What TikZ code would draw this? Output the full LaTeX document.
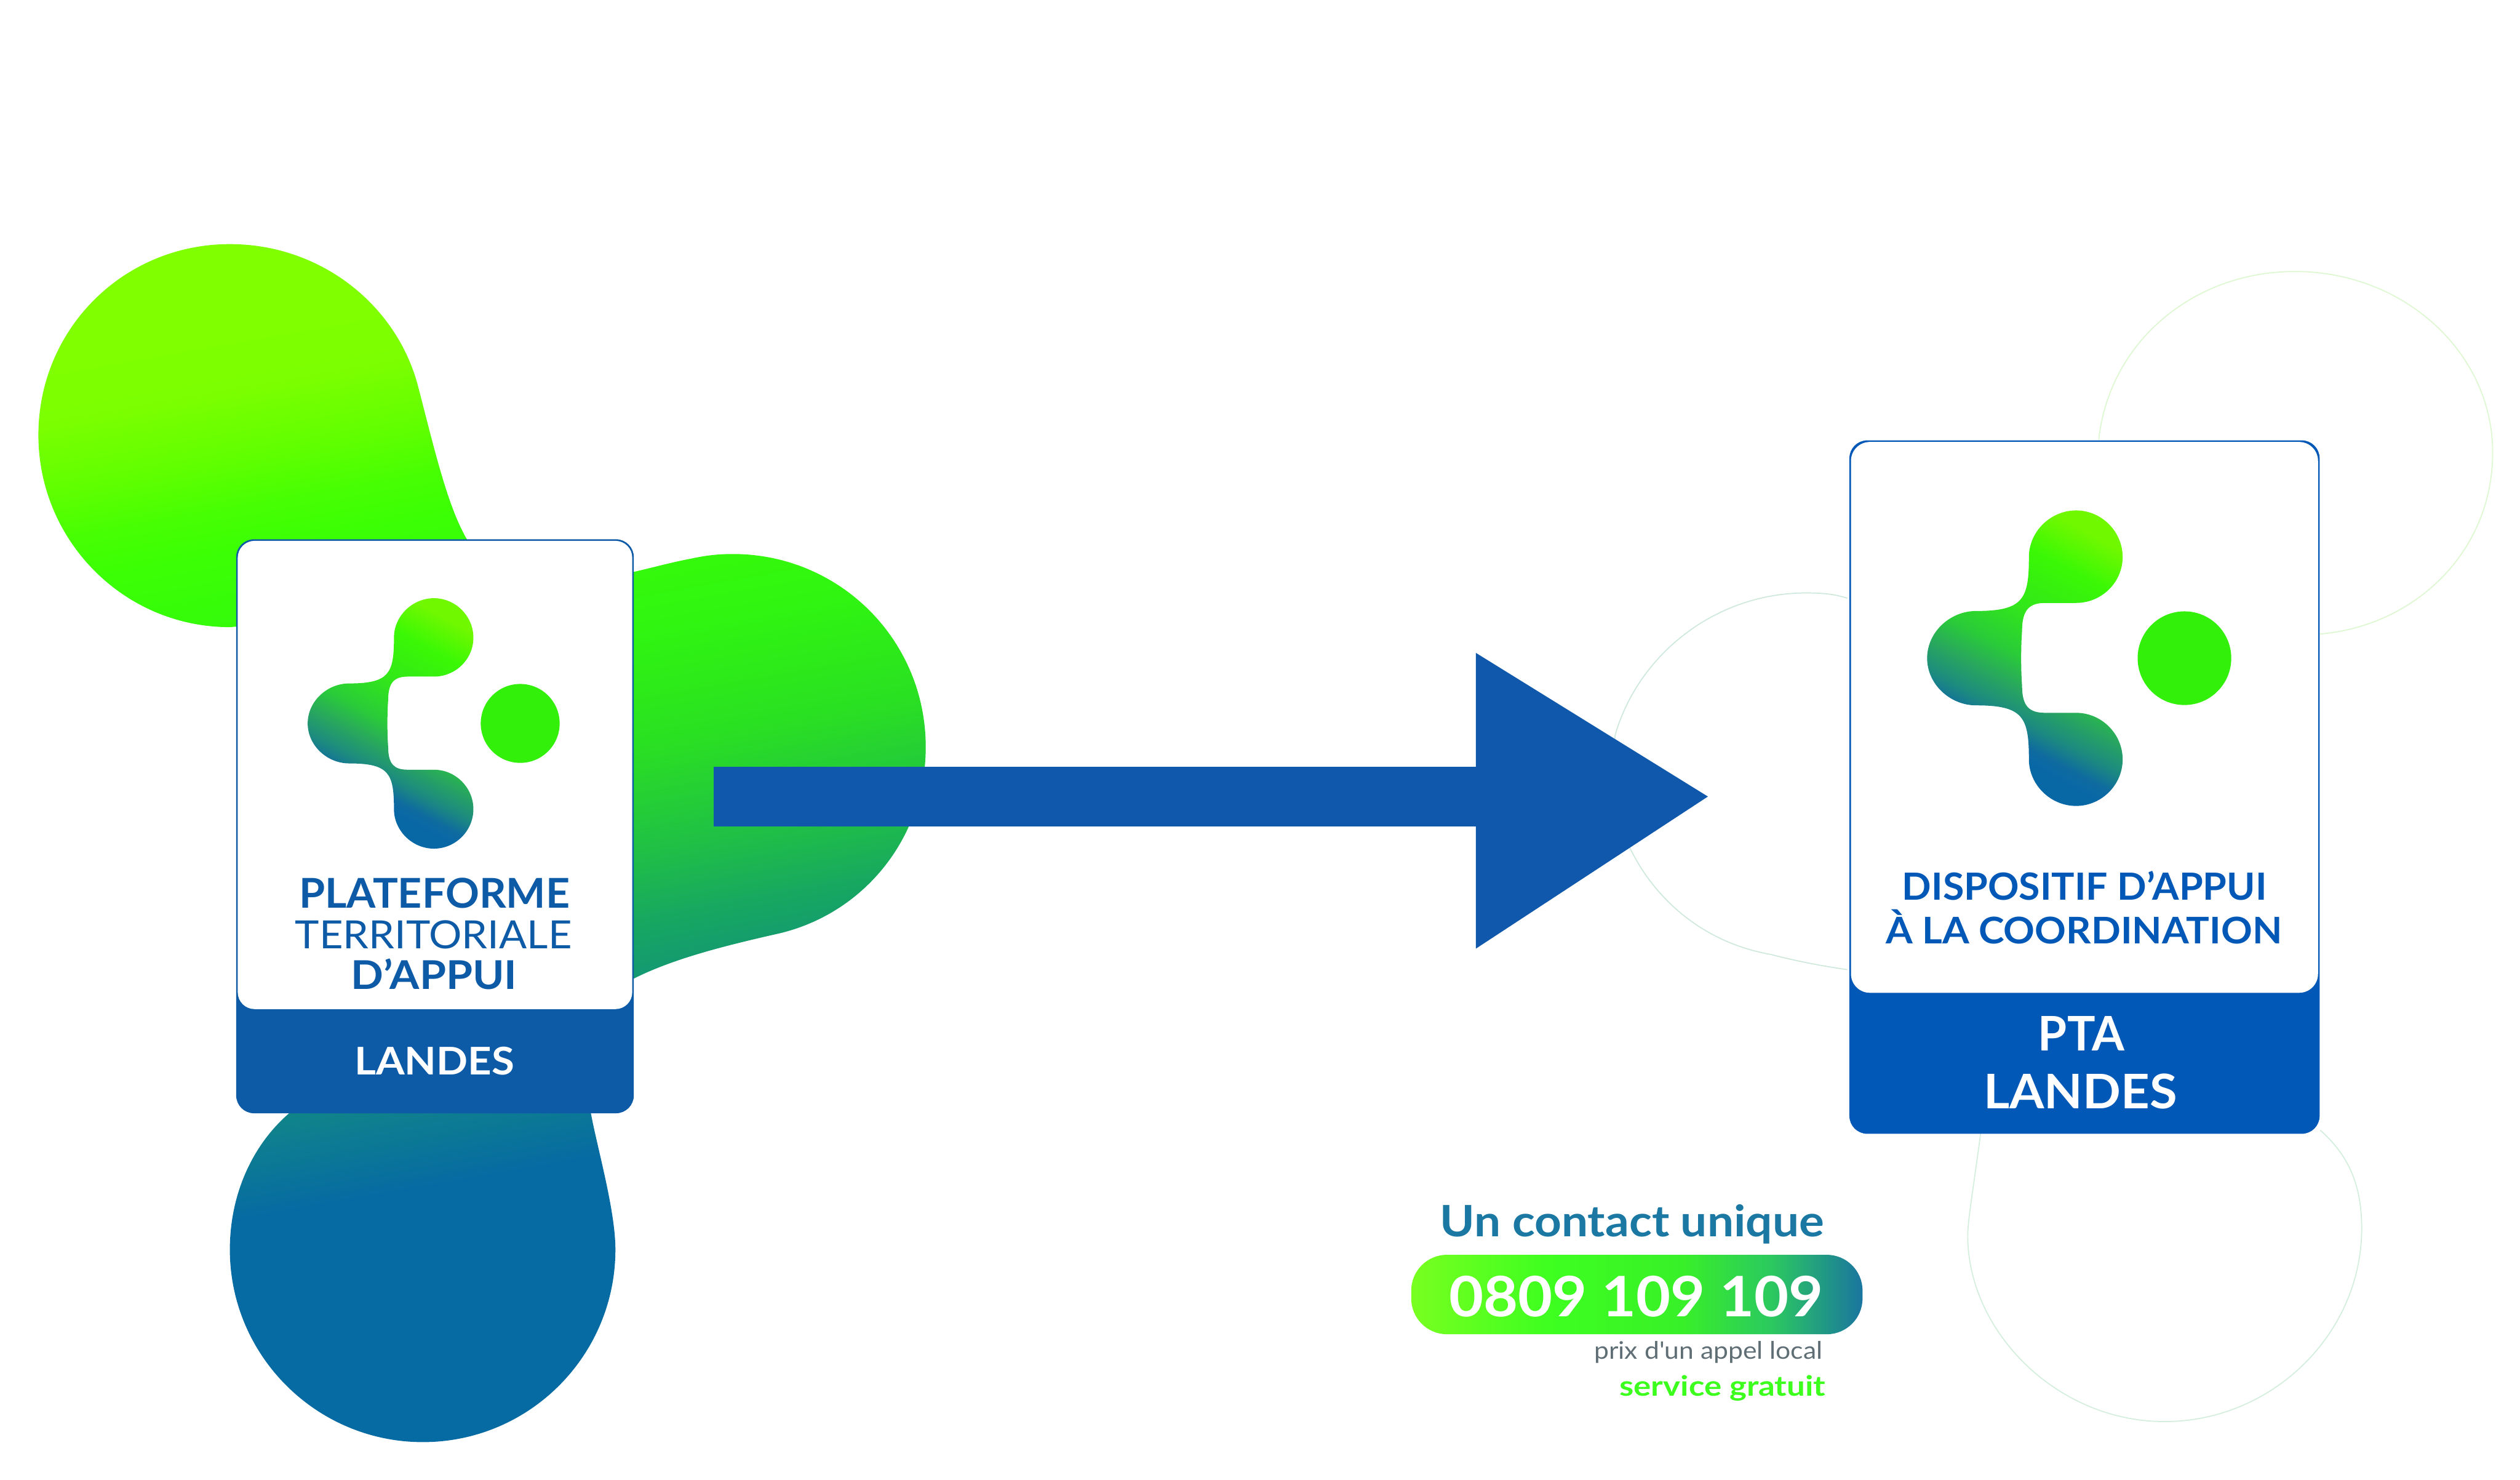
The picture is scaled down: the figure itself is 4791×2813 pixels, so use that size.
\documentclass[tikz,border=0pt]{standalone}
\usepackage{fontspec}
\setmainfont{Lato}[Ligatures=TeXOff]
\definecolor{cardA}{HTML}{0D5AA7}
\definecolor{cardB}{HTML}{0258B6}
\definecolor{arrowblue}{HTML}{0F58AB}
\definecolor{tealtxt}{HTML}{1B78A3}
\definecolor{greytxt}{HTML}{5F6F75}
\definecolor{greentxt}{HTML}{3CFF1E}
\definecolor{dotgreen}{HTML}{33F00A}
\definecolor{faintA}{HTML}{DDF8D0}
\definecolor{faintB}{HTML}{D3EEDD}
\definecolor{faintC}{HTML}{CFE8DC}
\definecolor{blobA}{HTML}{066AA3}\definecolor{blobB}{HTML}{0E7E90}\definecolor{blobC}{HTML}{17A860}
\definecolor{blobC2}{HTML}{20C045}\definecolor{blobD}{HTML}{2AE022}\definecolor{blobE}{HTML}{30F510}
\definecolor{blobF}{HTML}{3AFF05}\definecolor{blobF2}{HTML}{47FF02}\definecolor{blobG}{HTML}{62FF00}
\definecolor{blobG2}{HTML}{7CFF00}\definecolor{blobH}{HTML}{80FF00}
\pgfdeclareverticalshading{blobgrad}{100bp}{
 color(0bp)=(blobA);color(35.5bp)=(blobA);color(38.8bp)=(blobB);color(45.5bp)=(blobC);color(48.5bp)=(blobC2);
 color(53bp)=(blobD);color(58bp)=(blobE);color(64.2bp)=(blobF);color(66.3bp)=(blobF2);color(68.6bp)=(blobG);
 color(71.5bp)=(blobG2);color(74.5bp)=(blobH);color(100bp)=(blobH)}
\definecolor{logA}{HTML}{0868A6}\definecolor{logB}{HTML}{0F6AA0}\definecolor{logC}{HTML}{1C8A80}
\definecolor{logD}{HTML}{28A560}\definecolor{logE}{HTML}{2ACC38}\definecolor{logF}{HTML}{32E818}
\definecolor{logG}{HTML}{3AF805}\definecolor{logH}{HTML}{70F800}
\pgfdeclareverticalshading{logograd}{100bp}{
 color(0bp)=(logA);color(32.5bp)=(logA);color(35bp)=(logB);color(39bp)=(logC);color(44bp)=(logD);
 color(50bp)=(logE);color(59bp)=(logF);color(69bp)=(logG);color(77bp)=(logH);color(100bp)=(logH)}
\definecolor{pilA}{HTML}{78FF20}\definecolor{pilB}{HTML}{3EFF20}\definecolor{pilC}{HTML}{38F028}\definecolor{pilD}{HTML}{2BC860}\definecolor{pilE}{HTML}{1A75A0}
\pgfdeclarehorizontalshading{pillgrad}{100bp}{
 color(0bp)=(pilA);color(25bp)=(pilA);color(40bp)=(pilB);color(55bp)=(pilC);color(65bp)=(pilD);color(75bp)=(pilE);color(100bp)=(pilE)}
% width and cap height are given in picture units (1 unit = 0.5pt)
\newsavebox{\fitbox}
\newcommand{\fittext}[3]{%
 \pgfmathsetmacro{\fitfs}{#2*0.5/0.717}%
 \sbox{\fitbox}{\fontsize{\fitfs pt}{\fitfs pt}\selectfont #3}%
 \pgfmathsetmacro{\fitratio}{#1*0.5/\the\wd\fitbox}%
 \scalebox{\fitratio}[1]{\usebox{\fitbox}}}
\tikzset{
 lbl/.style={anchor=base,inner sep=0pt,outer sep=0pt},
 faintline/.style={line width=1pt},
}
\newcommand{\logooutline}{
 (0,-238) .. controls (41,-238) and (75,-204) .. (75,-163)
 .. controls (75,-122) and (41,-89) .. (0,-89)
 .. controls (-20,-89) and (-35,-89) .. (-50,-89)
 .. controls (-75,-89) and (-87,-78) .. (-87,-45)
 .. controls (-89,-20) and (-89,20) .. (-87,45)
 .. controls (-87,78) and (-75,88) .. (-50,88)
 .. controls (-35,88) and (-20,88) .. (0,88)
 .. controls (41,88) and (75,122) .. (75,163)
 .. controls (75,204) and (41,238) .. (0,238)
 .. controls (-41,238) and (-76,204) .. (-76,163)
 .. controls (-76,95) and (-85,76) .. (-161,76)
 .. controls (-203,76) and (-240,42) .. (-240,0)
 .. controls (-240,-42) and (-203,-76) .. (-161,-76)
 .. controls (-85,-76) and (-76,-95) .. (-76,-163)
 .. controls (-76,-204) and (-41,-238) .. (0,-238) -- cycle}
\begin{document}
\begin{tikzpicture}[x=0.5pt,y=-0.5pt]
\useasboundingbox (0,0) rectangle (4791,2813);
\fill[white] (0,0) rectangle (4791,2813);
% big gradient blob
\shade[shading=blobgrad,shading angle=10]
 (437,464) .. controls (610,464) and (755,580) .. (795,735)
 .. controls (825,850) and (850,960) .. (887,1024)
 .. controls (930,1100) and (1050,1125) .. (1205,1087)
 .. controls (1240,1079) and (1280,1068) .. (1313,1062)
 .. controls (1340,1056) and (1365,1053) .. (1393,1053)
 .. controls (1596,1053) and (1760,1216) .. (1760,1420)
 .. controls (1760,1590) and (1645,1735) .. (1482,1774)
 .. controls (1380,1797) and (1280,1822) .. (1205,1860)
 .. controls (1120,1900) and (1100,2010) .. (1123,2114)
 .. controls (1135,2180) and (1170,2300) .. (1170,2375)
 .. controls (1170,2577) and (1006,2741) .. (804,2741)
 .. controls (602,2741) and (437,2577) .. (437,2375)
 .. controls (437,2270) and (480,2175) .. (552,2114)
 -- (600,1900) -- (449,1191) -- (437,1192)
 .. controls (235,1192) and (73,1027) .. (73,827)
 .. controls (73,625) and (235,464) .. (437,464) -- cycle;
% faint outlines behind the right card
\draw[faintA,faintline] (3990,836) .. controls (4010,650) and (4170,516) .. (4363,516)
 .. controls (4570,516) and (4739,670) .. (4739,860)
 .. controls (4739,1050) and (4590,1190) .. (4411,1205);
\draw[faintB,faintline] (4411,2148) .. controls (4470,2200) and (4490,2260) .. (4490,2335)
 .. controls (4490,2535) and (4320,2702) .. (4115,2702)
 .. controls (3910,2702) and (3741,2530) .. (3741,2349)
 .. controls (3741,2320) and (3750,2270) .. (3766,2151);
\draw[faintC,faintline] (3512,1843) .. controls (3470,1837) and (3420,1828) .. (3366,1814)
 .. controls (3230,1790) and (3140,1700) .. (3097,1608)
 .. controls (3075,1560) and (3060,1470) .. (3071,1396)
 .. controls (3115,1245) and (3260,1127) .. (3434,1127)
 .. controls (3470,1127) and (3490,1130) .. (3512,1137);
% left card
\fill[cardA,rounded corners=17pt] (449,1025) rectangle (1205,2116);
\fill[white,rounded corners=16pt] (452,1028) rectangle (1202,1918);
\shade[shading=logograd,shading angle=-28,shift={(825,1375)}] \logooutline;
\fill[dotgreen] (989,1375) circle[radius=75];
\node[lbl,text=cardA] (plateforme) at (826,1726) {\fittext{515}{56}{\bfseries PLATEFORME}};
\node[lbl,text=cardA] (territoriale) at (824,1803) {\fittext{526}{53}{TERRITORIALE}};
\node[lbl,text=cardA] (dappuiA) at (825,1880) {\fittext{316}{54}{\bfseries D’APPUI}};
\node[lbl,text=white] (landesA) at (826,2043) {\fittext{304}{52}{\bfseries LANDES}};
% right card
\fill[cardB,rounded corners=17pt] (3516,837) rectangle (4410,2155);
\fill[white,rounded corners=18pt] (3519,840) rectangle (4407,1887);
\shade[shading=logograd,shading angle=-28,shift={(3947,1251)},scale=1.18] \logooutline;
\fill[dotgreen] (4153,1251) circle[radius=89];
\node[lbl,text=cardB] (dispositif) at (3963,1711) {\fittext{693}{51}{\bfseries DISPOSITIF D’APPUI}};
\node[lbl,text=cardB] (coordination) at (3962,1794) {\fittext{753}{50}{\bfseries À LA COORDINATION}};
\node[lbl,text=white] (pta) at (3957,1997) {\fittext{164}{65}{\bfseries PTA}};
\node[lbl,text=white] (landesB) at (3955,2107) {\fittext{368}{65}{\bfseries LANDES}};
% arrow between the two cards
\coordinate (arrowstart) at (1357,1514);
\coordinate (arrowbase) at (2808,1514);
\coordinate (arrowend) at (3247,1514);
\draw[arrowblue,line width=57pt] (arrowstart) -- (arrowbase);
\fill[arrowblue] (arrowend) -- ++(-441,-273) -- ++(0,562) -- cycle;
% contact block
\node[lbl,text=tealtxt] (contact) at (3103,2351) {\fittext{730}{59}{\bfseries Un contact unique}};
\shade[shading=pillgrad,rounded corners=34pt] (2683,2385) rectangle (3541,2536);
\node[lbl,text=white] (phone) at (3111,2502) {\fittext{712}{76}{\bfseries 0809 109 109}};
\node[lbl,text=greytxt] (prix) at (3248,2583) {\fittext{434}{33}{prix d'un appel local}};
\node[lbl,text=greentxt] (gratuit) at (3275,2653) {\fittext{392}{38}{\bfseries service gratuit}};
\end{tikzpicture}
\end{document}
